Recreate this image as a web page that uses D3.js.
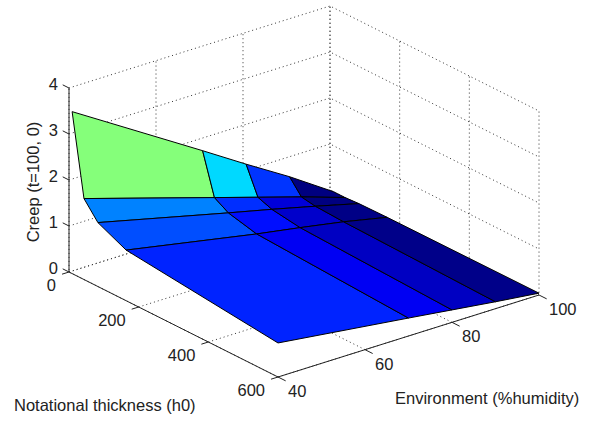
<!DOCTYPE html>
<html>
<head>
<meta charset="utf-8">
<script src="https://cdn.jsdelivr.net/npm/d3@7"></script>
<style>
	html, body { margin: 0; padding: 0; background: #fff; }
	svg { display: block; }
	text { font-family: "Liberation Sans", Arial, sans-serif; font-size: 16.5px; fill: #222; }
	.grid { fill: none; stroke: #333; stroke-width: 1; stroke-dasharray: 1 3; }
	.axis { fill: none; stroke: #222; stroke-width: 1; }
	.cell { stroke: #000; stroke-width: 1; stroke-linejoin: round; }
</style>
</head>
<body>
<svg id="chart" width="591" height="424"></svg>
<script>
var thickness = [9, 43, 83, 164, 600],
	humidity = [40, 70, 80, 90, 100];

// one row per thickness, one column per humidity
var creep = [
	[3.52, 1.78, 1.19, 0.62, 0.00],
	[1.76, 0.89, 0.60, 0.31, 0.00],
	[1.39, 0.71, 0.49, 0.26, 0.02],
	[1.10, 0.56, 0.40, 0.23, 0.03],
	[0.74, 0.39, 0.27, 0.15, 0.04]
];

var thicknessTicks = [0, 200, 400, 600],
	humidityTicks = [40, 60, 80, 100],
	creepTicks = [0, 1, 2, 3, 4];

var svg = d3.select("#chart");

// the view is a fixed oblique one, each data axis adds its own screen offset
var hx = d3.scaleLinear().domain([0, 600]).range([0, 209]),
	hy = d3.scaleLinear().domain([0, 600]).range([0, 105]),
	ex = d3.scaleLinear().domain([40, 100]).range([0, 261]),
	ey = d3.scaleLinear().domain([40, 100]).range([0, -82]),
	zy = d3.scaleLinear().domain([0, 4]).range([0, -184]);

function project(h, e, z) {
	return [69 + hx(h) + ex(e), 272 + hy(h) + ey(e) + zy(z)];
}

var jet = d3.scaleLinear()
	.domain([0, 0.125, 0.375, 0.625, 0.875, 1])
	.range(["#000080", "#0000ff", "#00ffff", "#ffff00", "#ff0000", "#800000"]);
var level = d3.scaleLinear().domain([0, 3.52]).range([0, 1]);

var line = d3.line();

// grid: two back walls and the floor
var gridLines = [];
creepTicks.forEach(function(z) {
	gridLines.push([project(0, 40, z), project(0, 100, z), project(600, 100, z)]);
});
humidityTicks.forEach(function(e) {
	gridLines.push([project(600, e, 0), project(0, e, 0), project(0, e, 4)]);
});
thicknessTicks.forEach(function(h) {
	gridLines.push([project(h, 40, 0), project(h, 100, 0), project(h, 100, 4)]);
});

svg.append("g").selectAll("path")
	.data(gridLines)
	.enter()
	.append("path")
	.attr("class", "grid")
	.attr("d", line);

// surface, one facet per pair of rows and columns
// a facet takes its colour from its corner at the next humidity
var cells = [];
d3.range(thickness.length - 1).forEach(function(i) {
	d3.range(humidity.length - 1).forEach(function(j) {
		cells.push({
			pts: [
				project(thickness[i], humidity[j], creep[i][j]),
				project(thickness[i], humidity[j + 1], creep[i][j + 1]),
				project(thickness[i + 1], humidity[j + 1], creep[i + 1][j + 1]),
				project(thickness[i + 1], humidity[j], creep[i + 1][j])
			],
			value: creep[i][j + 1]
		});
	});
});

svg.append("g").selectAll("path")
	.data(cells)
	.enter()
	.append("path")
	.attr("class", "cell")
	.attr("fill", function(d) { return jet(level(d.value)); })
	.attr("d", function(d) { return line(d.pts) + "Z"; });

// axes
var axes = svg.append("g");
axes.append("path").attr("class", "axis").attr("d", line([project(0, 40, 0), project(0, 40, 4)]));
axes.append("path").attr("class", "axis").attr("d", line([project(0, 40, 0), project(600, 40, 0)]));
axes.append("path").attr("class", "axis").attr("d", line([project(600, 40, 0), project(600, 100, 0)]));

axes.selectAll(".ztick")
	.data(creepTicks)
	.enter()
	.append("path")
	.attr("class", "axis ztick")
	.attr("d", function(d) { return line([project(0, 40, d), project(-18, 40, d)]); });
axes.selectAll(".htick")
	.data(thicknessTicks)
	.enter()
	.append("path")
	.attr("class", "axis htick")
	.attr("d", function(d) { return line([project(d, 40, 0), project(d, 38.4, 0)]); });
axes.selectAll(".etick")
	.data(humidityTicks)
	.enter()
	.append("path")
	.attr("class", "axis etick")
	.attr("d", function(d) { return line([project(600, d, 0), project(622, d, 0)]); });

// tick labels
axes.selectAll(".zlabel")
	.data(creepTicks)
	.enter()
	.append("text")
	.attr("text-anchor", "end")
	.attr("x", function(d) { return project(0, 40, d)[0] - 11; })
	.attr("y", function(d) { return project(0, 40, d)[1] + 2; })
	.text(function(d) { return d; });
axes.selectAll(".hlabel")
	.data(thicknessTicks)
	.enter()
	.append("text")
	.attr("text-anchor", "end")
	.attr("x", function(d) { return project(d, 40, 0)[0] - 13; })
	.attr("y", function(d) { return project(d, 40, 0)[1] + 19; })
	.text(function(d) { return d; });
axes.selectAll(".elabel")
	.data(humidityTicks)
	.enter()
	.append("text")
	.attr("x", function(d) { return project(600, d, 0)[0] + 10; })
	.attr("y", function(d) { return project(600, d, 0)[1] + 20; })
	.text(function(d) { return d; });

// titles
svg.append("text")
	.attr("text-anchor", "middle")
	.attr("transform", "translate(39,182) rotate(-90)")
	.text("Creep (t=100, 0)");
svg.append("text")
	.attr("x", 14)
	.attr("y", 411)
	.text("Notational thickness (h0)");
svg.append("text")
	.attr("x", 395)
	.attr("y", 404)
	.text("Environment (%humidity)");
</script>
</body>
</html>
